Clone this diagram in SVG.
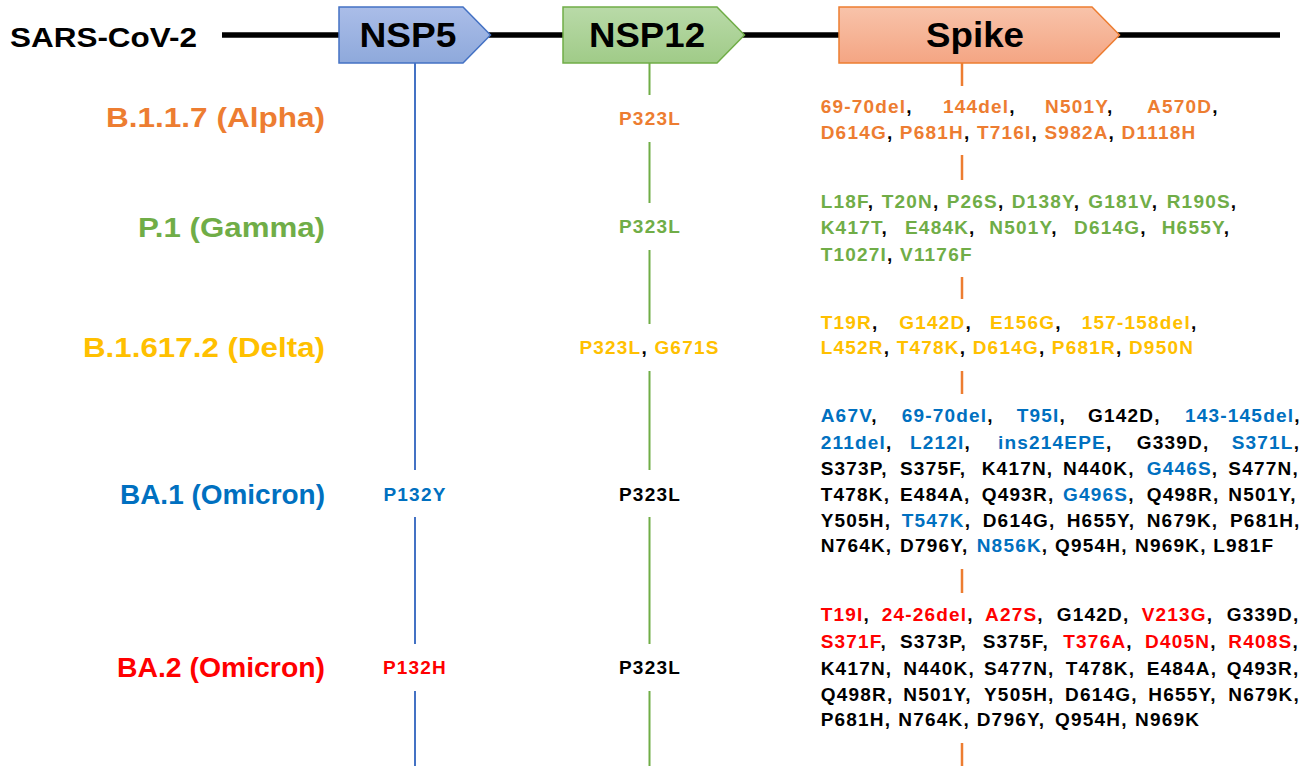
<svg xmlns="http://www.w3.org/2000/svg" width="1315" height="766" viewBox="0 0 1315 766">
<style>
.t{font-family:"Liberation Sans",Arial,Helvetica,sans-serif;font-weight:bold}
.big{font-size:34.5px;fill:#000}
.lab{font-size:27.5px}
.m{font-size:19px;letter-spacing:1.2px;fill:#000}
.o{fill:#ED7D31}.g{fill:#70AD47}.y{fill:#FFC000}.b{fill:#0070C0}.r{fill:#FF0000}.k{fill:#000}
.vb{stroke:#4472C4;stroke-width:2;fill:none}
.vg{stroke:#70AD47;stroke-width:2;fill:none}
.vo{stroke:#ED7D31;stroke-width:2.5;fill:none}
</style>
<defs>
<linearGradient id="gb" x1="0" y1="0" x2="0" y2="1"><stop offset="0" stop-color="#AABDE8"/><stop offset="1" stop-color="#8EA9DB"/></linearGradient>
<linearGradient id="gg" x1="0" y1="0" x2="0" y2="1"><stop offset="0" stop-color="#B9DAA8"/><stop offset="1" stop-color="#A0CB88"/></linearGradient>
<linearGradient id="go" x1="0" y1="0" x2="0" y2="1"><stop offset="0" stop-color="#F8C3AA"/><stop offset="1" stop-color="#F4A583"/></linearGradient>
</defs>
<rect width="1315" height="766" fill="#fff"/>

<g id="connectors">
<line x1="222" y1="35" x2="1280" y2="35" stroke="#000" stroke-width="5.5"/>
<path class="vb" d="M415,63V470M415,517V644M415,691V766"/>
<path class="vg" d="M649.5,63V95M649.5,142V203M649.5,250V324M649.5,371V470M649.5,517V644M649.5,691V766"/>
<path class="vo" d="M962,63V86M962,155V180M962,277V299M962,371V394M962,569V593M962,743V766"/>
</g>

<g id="genome-label"><text class="t" x="10" y="46.5" font-size="27.5" textLength="187" lengthAdjust="spacingAndGlyphs">SARS-CoV-2</text></g>

<g id="nsp5">
<polygon points="339,7 463,7 490.5,35 463,63 339,63" fill="url(#gb)" stroke="#4472C4" stroke-width="1.5"/>
<text class="t big" x="408" y="47" text-anchor="middle" textLength="97" lengthAdjust="spacingAndGlyphs">NSP5</text>
</g>
<g id="nsp12">
<polygon points="563,7 717,7 744.5,35 717,63 563,63" fill="url(#gg)" stroke="#70AD47" stroke-width="1.5"/>
<text class="t big" x="647" y="47" text-anchor="middle" textLength="116" lengthAdjust="spacingAndGlyphs">NSP12</text>
</g>
<g id="spike">
<polygon points="839,7 1092,7 1119.5,35 1092,63 839,63" fill="url(#go)" stroke="#ED7D31" stroke-width="1.5"/>
<text class="t big" x="975" y="47" text-anchor="middle" textLength="98" lengthAdjust="spacingAndGlyphs">Spike</text>
</g>

<g id="alpha">
<text class="t lab o" x="325" y="127" text-anchor="end" textLength="219" lengthAdjust="spacingAndGlyphs">B.1.1.7 (Alpha)</text>
<text class="t m o" x="650" y="125" text-anchor="middle">P323L</text>
<text class="t m" y="112.5"><tspan x="820.7" class="o">69-70del</tspan>,<tspan x="943" class="o">144del</tspan>,<tspan x="1045" class="o">N501Y</tspan>,<tspan x="1147" class="o">A570D</tspan>,</text>
<text class="t m" y="139"><tspan x="820.7" class="o">D614G</tspan>, <tspan class="o">P681H</tspan>, <tspan class="o">T716I</tspan>, <tspan class="o">S982A</tspan>, <tspan class="o">D1118H</tspan></text>
</g>

<g id="gamma">
<text class="t lab g" x="325" y="237" text-anchor="end" textLength="187" lengthAdjust="spacingAndGlyphs">P.1 (Gamma)</text>
<text class="t m g" x="650" y="232.5" text-anchor="middle">P323L</text>
<text class="t m" y="208"><tspan x="820.7" class="g">L18F</tspan>,<tspan x="881.7" class="g">T20N</tspan>,<tspan x="946.7" class="g">P26S</tspan>,<tspan x="1011.7" class="g">D138Y</tspan>,<tspan x="1088.3" class="g">G181V</tspan>,<tspan x="1166.7" class="g">R190S</tspan>,</text>
<text class="t m" y="234"><tspan x="820.7" class="g">K417T</tspan>,<tspan x="905" class="g">E484K</tspan>,<tspan x="989.3" class="g">N501Y</tspan>,<tspan x="1074" class="g">D614G</tspan>,<tspan x="1161.7" class="g">H655Y</tspan>,</text>
<text class="t m" y="260.5"><tspan x="820.7" class="g">T1027I</tspan>, <tspan class="g">V1176F</tspan></text>
</g>

<g id="delta">
<text class="t lab y" x="325" y="356.5" text-anchor="end" textLength="242" lengthAdjust="spacingAndGlyphs">B.1.617.2 (Delta)</text>
<text class="t m" x="649.5" y="354" text-anchor="middle"><tspan class="y">P323L</tspan>, <tspan class="y">G671S</tspan></text>
<text class="t m" y="328.5"><tspan x="820.7" class="y">T19R</tspan>,<tspan x="899.3" class="y">G142D</tspan>,<tspan x="990" class="y">E156G</tspan>,<tspan x="1081.7" class="y">157-158del</tspan>,</text>
<text class="t m" y="354"><tspan x="820.7" class="y">L452R</tspan>, <tspan class="y">T478K</tspan>, <tspan class="y">D614G</tspan>, <tspan class="y">P681R</tspan>, <tspan class="y">D950N</tspan></text>
</g>

<g id="ba1">
<text class="t lab b" x="325" y="504" text-anchor="end" textLength="205" lengthAdjust="spacingAndGlyphs">BA.1 (Omicron)</text>
<text class="t m b" x="415" y="500.7" text-anchor="middle">P132Y</text>
<text class="t m" x="650" y="500.7" text-anchor="middle">P323L</text>
<text class="t m" y="422"><tspan x="820.7" class="b">A67V</tspan>,<tspan x="901.7" class="b">69-70del</tspan>,<tspan x="1016.7" class="b">T95I</tspan>,<tspan x="1088">G142D,</tspan><tspan x="1185" class="b">143-145del</tspan>,</text>
<text class="t m" y="448.5"><tspan x="820.7" class="b">211del</tspan>,<tspan x="910" class="b">L212I</tspan>,<tspan x="998" class="b">ins214EPE</tspan>,<tspan x="1136.7">G339D,</tspan><tspan x="1231.7" class="b">S371L</tspan>,</text>
<text class="t m" y="475"><tspan x="820.7">S373P,</tspan><tspan x="900">S375F,</tspan><tspan x="981.7">K417N,</tspan><tspan x="1063">N440K,</tspan><tspan x="1146.7" class="b">G446S</tspan>,<tspan x="1228.3">S477N,</tspan></text>
<text class="t m" y="500.5"><tspan x="820.7">T478K,</tspan><tspan x="900">E484A,</tspan><tspan x="981.7">Q493R,</tspan><tspan x="1063" class="b">G496S</tspan>,<tspan x="1146.7">Q498R,</tspan><tspan x="1228.3">N501Y,</tspan></text>
<text class="t m" y="527"><tspan x="820.7">Y505H,</tspan><tspan x="901.7" class="b">T547K</tspan>,<tspan x="982.7">D614G,</tspan><tspan x="1066.7">H655Y,</tspan><tspan x="1146.7">N679K,</tspan><tspan x="1230">P681H,</tspan></text>
<text class="t m" y="552"><tspan x="820.7">N764K,</tspan><tspan x="900">D796Y,</tspan><tspan x="976.7" class="b">N856K</tspan>,<tspan x="1055">Q954H,</tspan><tspan x="1135">N969K,</tspan><tspan x="1213.3">L981F</tspan></text>
</g>

<g id="ba2">
<text class="t lab r" x="325" y="677" text-anchor="end" textLength="208" lengthAdjust="spacingAndGlyphs">BA.2 (Omicron)</text>
<text class="t m r" x="415" y="674" text-anchor="middle">P132H</text>
<text class="t m" x="650" y="674" text-anchor="middle">P323L</text>
<text class="t m" y="620.5"><tspan x="820.7" class="r">T19I</tspan>,<tspan x="881.7" class="r">24-26del</tspan>,<tspan x="985" class="r">A27S</tspan>,<tspan x="1056.7">G142D,</tspan><tspan x="1141.7" class="r">V213G</tspan>,<tspan x="1226.7">G339D,</tspan></text>
<text class="t m" y="647.5"><tspan x="820.7" class="r">S371F</tspan>,<tspan x="900">S373P,</tspan><tspan x="982.7">S375F,</tspan><tspan x="1063.3" class="r">T376A</tspan>,<tspan x="1145" class="r">D405N</tspan>,<tspan x="1228.3" class="r">R408S</tspan>,</text>
<text class="t m" y="674.5"><tspan x="820.7">K417N,</tspan><tspan x="903.3">N440K,</tspan><tspan x="984">S477N,</tspan><tspan x="1065.7">T478K,</tspan><tspan x="1146.7">E484A,</tspan><tspan x="1226.7">Q493R,</tspan></text>
<text class="t m" y="700.5"><tspan x="820.7">Q498R,</tspan><tspan x="903.3">N501Y,</tspan><tspan x="984">Y505H,</tspan><tspan x="1065">D614G,</tspan><tspan x="1148.3">H655Y,</tspan><tspan x="1228.3">N679K,</tspan></text>
<text class="t m" y="726"><tspan x="820.7">P681H,</tspan><tspan x="898.3">N764K,</tspan><tspan x="976.7">D796Y,</tspan><tspan x="1055">Q954H,</tspan><tspan x="1135">N969K</tspan></text>
</g>
</svg>
